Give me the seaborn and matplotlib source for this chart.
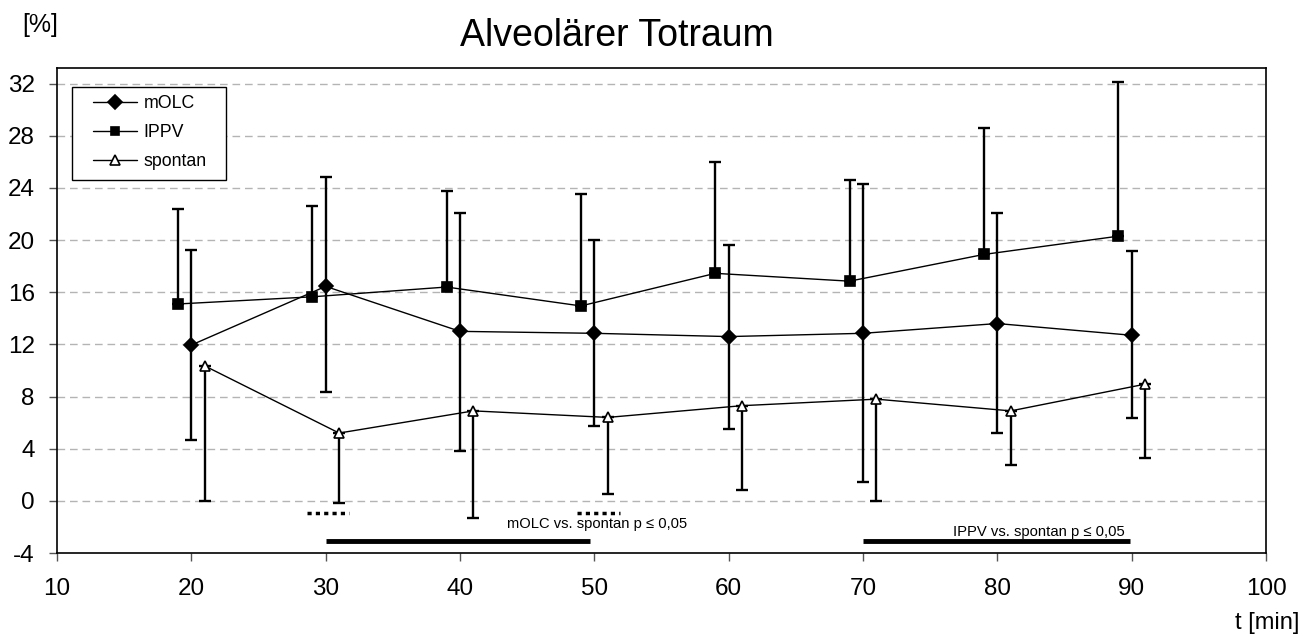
import matplotlib
matplotlib.use("Agg")
import matplotlib.pyplot as plt
from matplotlib.patches import Rectangle
import seaborn as sns
import pandas as pd
import numpy as np

# ---- data ----
times = [20, 30, 40, 50, 60, 70, 80, 90]
molc = [11.95, 16.45, 13.0, 12.85, 12.6, 12.85, 13.6, 12.7]
molc_up = [19.25, 24.85, 22.05, 20.0, 19.6, 24.3, 22.05, 19.2]
molc_lo = [4.65, 8.35, 3.8, 5.75, 5.5, 1.45, 5.2, 6.35]
ippv = [15.1, 15.65, 16.4, 14.95, 17.45, 16.85, 18.9, 20.3]
ippv_up = [22.35, 22.6, 23.8, 23.55, 26.0, 24.6, 28.6, 32.1]
spontan = [10.35, 5.2, 6.9, 6.4, 7.3, 7.8, 6.9, 8.95]
spontan_lo = [0.0, -0.2, -1.3, 0.5, 0.8, 0.0, 2.75, 3.25]

series_names = ["mOLC", "IPPV", "spontan"]
x_ticks = [10, 20, 30, 40, 50, 60, 70, 80, 90, 100]
y_ticks = [-4, 0, 4, 8, 12, 16, 20, 24, 28, 32]

sns.set_theme(style="white")
plt.rcParams['font.family'] = ['Liberation Sans', 'DejaVu Sans']
plt.rcParams['text.color'] = 'black'
plt.rcParams['xtick.color'] = 'black'
plt.rcParams['ytick.color'] = 'black'

fig = plt.figure(figsize=(13.11, 6.37), dpi=100)
ax = fig.add_axes([57/1311, (637-553)/637, (1266-57)/1311, (553-68)/637])

t = np.array(times, dtype=float)
df = pd.concat([
    pd.DataFrame({"t": t, "v": molc, "s": "mOLC"}),
    pd.DataFrame({"t": t - 1, "v": ippv, "s": "IPPV"}),
    pd.DataFrame({"t": t + 1, "v": spontan, "s": "spontan"}),
])

# error bars
ekw = dict(fmt="none", ecolor="black", elinewidth=1.7, capsize=4.5, capthick=1.7, zorder=2)
ax.errorbar(t, molc, yerr=[np.array(molc) - np.array(molc_lo), np.array(molc_up) - np.array(molc)], **ekw)
ax.errorbar(t - 1, ippv, yerr=[np.zeros(len(ippv)), np.array(ippv_up) - np.array(ippv)], **ekw)
ax.errorbar(t + 1, spontan, yerr=[np.array(spontan) - np.array(spontan_lo), np.zeros(len(spontan))], **ekw)

markers = {"mOLC": "D", "IPPV": "s", "spontan": "^"}
sizes = {"mOLC": 7, "IPPV": 6.8, "spontan": 7.5}
faces = {"mOLC": "black", "IPPV": "black", "spontan": "white"}
for name in series_names:
    sub = df[df["s"] == name]
    sns.lineplot(data=sub, x="t", y="v", ax=ax, color="black", linewidth=1.0,
                 marker=markers[name], markersize=sizes[name], markerfacecolor=faces[name],
                 markeredgecolor="black", markeredgewidth=1.2, label=name, zorder=3)

ax.set_xlim(10, 100)
ax.set_ylim(-4, 33.2)
ax.set_xticks(x_ticks)
ax.set_yticks(y_ticks)
ax.set_xticklabels([str(v) for v in x_ticks], fontsize=17.5)
ax.set_yticklabels([str(v) for v in y_ticks], fontsize=17.5)
ax.set_xlabel("")
ax.set_ylabel("")
ax.tick_params(axis="both", direction="out", length=6, width=1, color="#555555",
               bottom=True, left=True)
ax.tick_params(axis="x", pad=12)
ax.tick_params(axis="y", pad=10)
for y in y_ticks[1:]:
    ax.axhline(y, color="#b4b4b4", linestyle=(0, (5.5, 3.5)), linewidth=1.0, zorder=1)
for sp in ax.spines.values():
    sp.set_visible(True)
    sp.set_color("black")
    sp.set_linewidth(1.2)

# significance annotations
ax.plot([28.6, 31.7], [-0.95, -0.95], color="black", linestyle=(0, (1.2, 1.2)), linewidth=2.5)
ax.plot([48.7, 51.9], [-0.95, -0.95], color="black", linestyle=(0, (1.2, 1.2)), linewidth=2.5)
ax.plot([30.0, 49.7], [-3.05, -3.05], color="black", linewidth=3.5, solid_capstyle="butt")
ax.text(43.5, -1.75, "mOLC vs. spontan p ≤ 0,05", fontsize=10.6, va="center", ha="left")
ax.plot([70.0, 89.9], [-3.05, -3.05], color="black", linewidth=3.5, solid_capstyle="butt")
ax.text(89.5, -2.4, "IPPV vs. spontan p ≤ 0,05", fontsize=10.7, va="center", ha="right")

# legend with separate frame
ax.add_patch(Rectangle((14.7/1209, (553-180)/485), (226-71.7)/1209, (180-86.7)/485,
                       transform=ax.transAxes, facecolor="white", edgecolor="black",
                       linewidth=1.0, zorder=4))
leg = ax.legend(loc="upper left", bbox_to_anchor=((93-57)/1209, (553-95)/485), fontsize=12.8,
                frameon=False, handlelength=2.45, borderpad=0, borderaxespad=0,
                labelspacing=0.68, handletextpad=0.4, markerscale=0.95)
leg.set_zorder(5)

fig.text(616.5/1311, 1 - 46/637, "Alveolärer Totraum", fontsize=27, ha="center", va="baseline")
fig.text(22/1311, 1 - 25/637, "[%]", fontsize=18, ha="left", va="center")
fig.text(1299/1311, 1 - 623/637, "t [min]", fontsize=17, ha="right", va="center")

fig.savefig("out.png", dpi=100)
